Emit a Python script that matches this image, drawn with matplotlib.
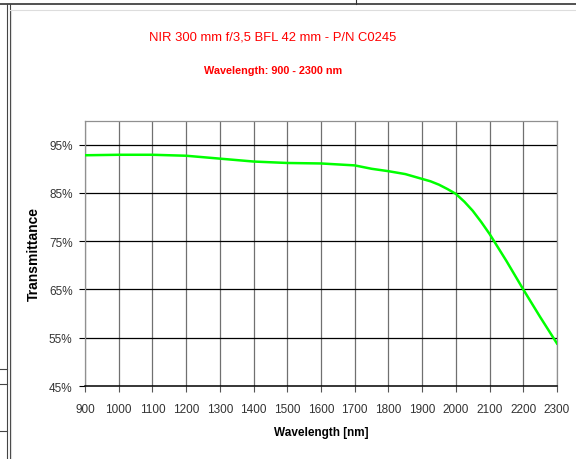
import matplotlib as mpl
mpl.use("Agg")
import matplotlib.pyplot as plt
from matplotlib.lines import Line2D
import numpy as np

# transmittance curve, wavelength in nm vs percent
wavelength = [900, 1000, 1100, 1200, 1300, 1400, 1500, 1600, 1700, 1750, 1800,
              1850, 1900, 1925, 1950, 1975, 2000, 2025, 2050, 2075, 2100,
              2150, 2200, 2250, 2300]
transmittance = [92.8, 92.9, 92.9, 92.7, 92.1, 91.5, 91.2, 91.1, 90.7, 90.0, 89.5,
                 88.9, 87.9, 87.4, 86.7, 85.8, 84.8, 83.2, 81.3, 79.0, 76.5,
                 70.9, 65.0, 59.3, 53.8]

x_ticks = list(range(900, 2301, 100))
y_ticks = [45, 55, 65, 75, 85, 95]
y_labels = ["45%", "55%", "65%", "75%", "85%", "95%"]

plt.rcParams['font.family'] = ['Liberation Sans', 'DejaVu Sans']

fig = plt.figure(figsize=(5.76, 4.6), dpi=100)
ax = fig.add_axes([85/576, 1-387/460, (557-85)/576, (387-121.5)/460])

ax.plot(wavelength, transmittance, color="#00ff00", lw=1.8, zorder=3)

ax.set_xlim(900, 2300)
ax.set_ylim(45, 100)
ax.set_xticks(x_ticks)
ax.set_xticklabels([str(t) for t in x_ticks], fontsize=8.5, color="#333333")
ax.set_yticks(y_ticks)
ax.set_yticklabels(y_labels, fontsize=8.5, color="#333333")
ax.tick_params(axis="x", length=4, width=0.8, color="#555555", pad=8)
ax.tick_params(axis="y", length=4, width=0.8, color="black", pad=5)

for t in x_ticks:
    ax.axvline(t, color="#707070", lw=0.9, zorder=1)
for t in y_ticks[1:]:
    ax.axhline(t, color="black", lw=0.9, zorder=2)

for side in ["top", "right", "left"]:
    ax.spines[side].set_color("#909090")
    ax.spines[side].set_linewidth(0.9)
ax.spines["bottom"].set_color("black")
ax.spines["bottom"].set_linewidth(1.1)

ax.set_xlabel("Wavelength [nm]", fontsize=8.5, fontweight="bold", labelpad=8)
ax.set_ylabel("Transmittance", fontsize=10, fontweight="bold", labelpad=6)

fig.text(273/576, 1-37/460, "NIR 300 mm f/3,5 BFL 42 mm - P/N C0245", color="red",
         fontsize=9.4, ha="center", va="center")
fig.text(273/576, 1-71/460, "Wavelength: 900 - 2300 nm", color="red",
         fontsize=7.8, fontweight="bold", ha="center", va="center")

# page frame lines
W, H = 576.0, 460.0
def seg(x0, y0, x1, y1, c="black", lw=1.0):
    fig.add_artist(Line2D([x0/W, x1/W], [1-y0/H, 1-y1/H], color=c, lw=lw,
                          transform=fig.transFigure))

seg(0, 4.5, 576, 4.5, "#333333", 1.2)
seg(7, 4.5, 7, 460, "#444444", 0.8)
seg(9.5, 4.5, 9.5, 460, "#444444", 0.8)
seg(10, 11, 576, 11, "#dddddd", 0.8)
seg(11, 11, 11, 460, "#dddddd", 0.8)
seg(356, 0, 356, 4.5, "#333333", 0.8)
seg(0, 370, 7, 370, "#444444", 0.8)
seg(0, 385, 7, 385, "#444444", 0.8)
seg(0, 432, 7, 432, "#444444", 0.8)

fig.savefig("out.png", dpi=100, facecolor="white")
